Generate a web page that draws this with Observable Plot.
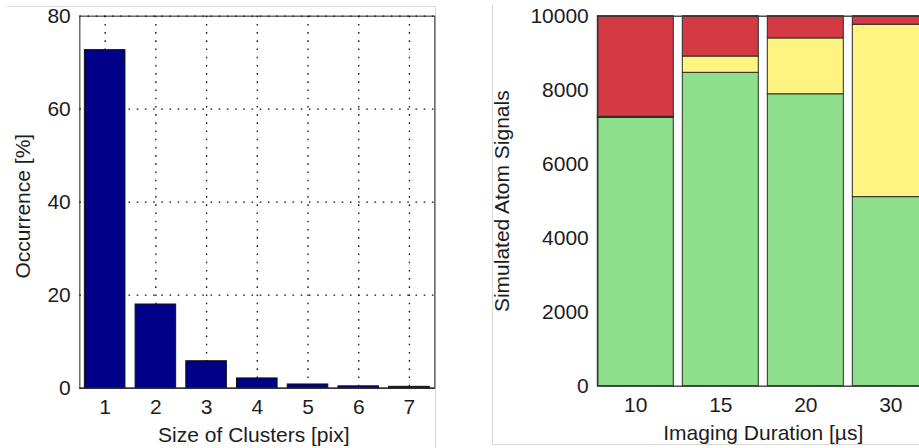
<!DOCTYPE html>
<html>
<head>
<meta charset="utf-8">
<script src="https://cdn.jsdelivr.net/npm/d3@7"></script>
<script src="https://cdn.jsdelivr.net/npm/@observablehq/plot@0.6"></script>
<style>
  html, body { margin: 0; padding: 0; background: #fff; overflow: hidden; }
  #fig { position: relative; width: 919px; height: 448px; overflow: hidden; background: #fff; }
  .panel { position: absolute; top: 0; }
  .edge { position: absolute; background: #dadada; }
</style>
</head>
<body>
<div id="fig">
  <div class="edge" style="left:7px; top:6px; width:429px; height:1px;"></div>
  <div class="edge" style="left:435px; top:6px; width:1px; height:442px;"></div>
  <div class="edge" style="left:492px; top:5px; width:1px; height:440px;"></div>
  <div class="edge" style="left:492px; top:444px; width:427px; height:1px;"></div>
</div>
<script>
// Cluster-size histogram (left)
const clusterSizes = ["1", "2", "3", "4", "5", "6", "7"];
const occurrence = [72.7, 18.0, 5.8, 2.1, 0.8, 0.4, 0.3];
const occurrenceTicks = [0, 20, 40, 60, 80];

// Simulated atom signals per imaging duration (right), stacked bottom to top
const durations = ["10", "15", "20", "30"];
const lowerSignals = [7250, 8470, 7890, 5110];
const middleSignals = [30, 440, 1510, 4660];
const upperSignals = [2720, 1090, 600, 230];
const signalTicks = [0, 2000, 4000, 6000, 8000, 10000];
const layerNames = ["lower", "middle", "upper"];
const layerColors = ["#8ddf8b", "#fff47f", "#d43a44"];

const font = '"Liberation Sans", Arial, Helvetica, sans-serif';
const ink = "#1c1c1c";
const dots = "1.6,6.6";
const fs = 21;

const clusterRows = clusterSizes.map((s, i) => ({size: s, pct: occurrence[i]}));
const signalRows = durations.flatMap((d, i) => [
  {duration: d, layer: "lower", value: lowerSignals[i]},
  {duration: d, layer: "middle", value: middleSignals[i]},
  {duration: d, layer: "upper", value: upperSignals[i]}
]);

const left = Plot.plot({
  width: 450,
  height: 448,
  marginLeft: 79.3,
  marginRight: 15.7,
  marginTop: 15.7,
  marginBottom: 60.3,
  style: {fontFamily: font, fontSize: fs + "px", color: ink, background: "transparent", overflow: "visible"},
  x: {domain: clusterSizes, paddingInner: 0.2, paddingOuter: 0.1, round: false, axis: null},
  y: {domain: [0, 80], axis: null},
  marks: [
    Plot.frame({stroke: "#555", strokeWidth: 1.3}),
    Plot.ruleX(clusterSizes, {x: d => d, stroke: "#111", strokeWidth: 1.3, strokeDasharray: dots}),
    Plot.ruleY(occurrenceTicks.slice(1), {y: d => d, stroke: "#111", strokeWidth: 1.3, strokeDasharray: dots}),
    Plot.barY(clusterRows, {x: "size", y: "pct", fill: "#000088", stroke: "#111", strokeWidth: 1}),
    Plot.ruleY([0], {stroke: "#222", strokeWidth: 1.3}),
    Plot.axisX({tickSize: 0, tickPadding: 11, label: null, fontSize: fs}),
    Plot.axisY({ticks: occurrenceTicks, tickSize: 0, tickPadding: 9, label: null, fontSize: fs}),
    Plot.text(["Size of Clusters [pix]"], {frameAnchor: "bottom", textAnchor: "middle", dx: -3.5, dy: 47, lineAnchor: "middle", fontSize: fs, fill: ink}),
    Plot.text(["Occurrence [%]"], {frameAnchor: "left", textAnchor: "middle", rotate: -90, dx: -57, dy: 4, lineAnchor: "middle", fontSize: fs, fill: ink})
  ]
});
left.classList.add("panel");
left.style.left = "0px";

const right = Plot.plot({
  width: 460,
  height: 448,
  marginLeft: 117.3,
  marginRight: 11.7,
  marginTop: 15.7,
  marginBottom: 62.3,
  style: {fontFamily: font, fontSize: fs + "px", color: ink, background: "transparent", overflow: "visible"},
  x: {domain: durations, paddingInner: 0.106, paddingOuter: 0, round: false, axis: null},
  y: {domain: [0, 10000], axis: null},
  color: {domain: layerNames, range: layerColors},
  marks: [
    Plot.barY(signalRows, {x: "duration", y: "value", fill: "layer", order: layerNames, stroke: "#2a2a2a", strokeWidth: 1}),
    Plot.frame({stroke: "#333", strokeWidth: 1.3}),
    Plot.axisX({tickSize: 0, tickPadding: 11, label: null, fontSize: fs}),
    Plot.axisY({ticks: signalTicks, tickFormat: d => String(d), tickSize: 0, tickPadding: 9, label: null, fontSize: fs}),
    Plot.text(["Imaging Duration [µs]"], {frameAnchor: "bottom", textAnchor: "middle", dy: 47, lineAnchor: "middle", fontSize: fs, fill: ink}),
    Plot.text(["Simulated Atom Signals"], {frameAnchor: "left", textAnchor: "middle", rotate: -90, dx: -96, dy: 0, lineAnchor: "middle", fontSize: fs, fill: ink})
  ]
});
right.classList.add("panel");
right.style.left = "480px";

const fig = document.getElementById("fig");
fig.appendChild(left);
fig.appendChild(right);
</script>
</body>
</html>
